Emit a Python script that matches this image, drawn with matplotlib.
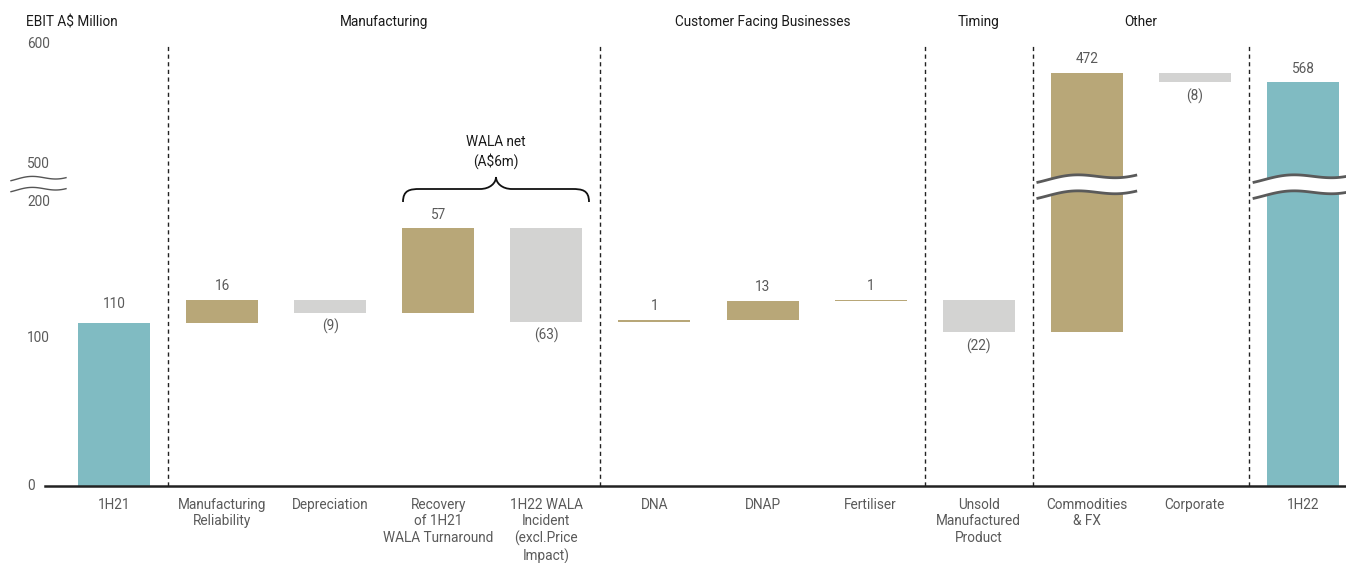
import numpy as np
import matplotlib
matplotlib.use("Agg")
import matplotlib.pyplot as plt
from matplotlib.transforms import blended_transform_factory
from matplotlib.path import Path
from matplotlib.patches import PathPatch

plt.rcParams['font.family'] = ['Liberation Sans Narrow', 'Roboto', 'DejaVu Sans']

categories = ['1H21', 'Manufacturing\nReliability', 'Depreciation',
              'Recovery\nof 1H21\nWALA Turnaround', '1H22 WALA\nIncident\n(excl.Price\nImpact)',
              'DNA', 'DNAP', 'Fertiliser', 'Unsold\nManufactured\nProduct',
              'Commodities\n& FX', 'Corporate', '1H22']
changes = [110, 16, -9, 57, -63, 1, 13, 1, -22, 472, -8]
total_label = 568
groups = ['Manufacturing', 'Customer Facing Businesses', 'Timing', 'Other']
group_edges = [0.5, 4.5, 7.5, 8.5, 10.5]
yticks = [0, 100, 200, 500, 600]

TEAL = '#80bbc2'
GOLD = '#b8a778'
GREY = '#d3d3d2'
TXT = '#5a5a5a'
FS = 9.8


# broken axis: 0-200 and 500-600 drawn, 200-500 squeezed
def fwd(v):
    v = np.asarray(v, dtype=float)
    return np.where(v <= 200, v * 1.48,
                    np.where(v < 500, 296 + (v - 200) * 26 / 300, 322 + (v - 500) * 1.2))


def inv(p):
    p = np.asarray(p, dtype=float)
    return np.where(p <= 296, p / 1.48,
                    np.where(p < 322, 200 + (p - 296) * 300 / 26, 500 + (p - 322) / 1.2))


W, H = 1346, 563
fig = plt.figure(figsize=(W / 100, H / 100), dpi=100)
top_px = fwd(600)
ax = fig.add_axes([45 / W, (H - 486) / H, (W - 45) / W, float(top_px) / H])
ax.set_yscale('function', functions=(fwd, inv))

n = len(categories)
x = np.arange(n)
xpx = lambda px: (px - 114) / 108.09
ax.set_xlim(xpx(45), xpx(1346))
ax.set_ylim(0, 600)

# waterfall bars
running = 0
bottoms, heights, colors = [], [], []
for i, c in enumerate(changes):
    if i == 0:
        bottoms.append(0); heights.append(c); colors.append(TEAL)
        running = c
        continue
    if c >= 0:
        bottoms.append(running); heights.append(c); colors.append(GOLD)
    else:
        bottoms.append(running + c); heights.append(-c); colors.append(GREY)
    running += c
bottoms.append(0); heights.append(running); colors.append(TEAL)
ax.bar(x, heights, bottom=bottoms, width=0.666, color=colors, zorder=2)

# value labels
values = changes + [total_label]
for i, v in enumerate(values):
    b, h = bottoms[i], heights[i]
    if v >= 0:
        dy = 14 if i == 0 else 10
        ax.annotate(str(v), (i, b + h), xytext=(0, dy), textcoords='offset points',
                    ha='center', va='center', fontsize=FS, color=TXT)
    else:
        ax.annotate('(%d)' % -v, (i, b), xytext=(0, -10), textcoords='offset points',
                    ha='center', va='center', fontsize=FS, color=TXT)

# axes styling
for s in ['top', 'right', 'left']:
    ax.spines[s].set_visible(False)
ax.spines['bottom'].set_linewidth(1.8)
ax.spines['bottom'].set_color('#222222')
ax.set_yticks([])
ax.set_xticks(x)
ax.set_xticklabels(categories, fontsize=FS, color=TXT, linespacing=1.22, va='top')
ax.tick_params(axis='x', length=0, pad=8.5)

ylab_tr = blended_transform_factory(fig.transFigure, ax.transData)
for t in yticks:
    dy = -9 if t == 200 else 0
    ax.annotate(str(t), (27 / W, t), xycoords=ylab_tr, xytext=(0, dy),
                textcoords='offset points', ha='left', va='center',
                fontsize=FS, color=TXT, annotation_clip=False)

# section separators and headers
for e in group_edges:
    ax.axvline(e, color='#222222', lw=1, ls=(0, (3, 2.5)), zorder=1)
hdr_y = 1 - 22 / H
fig.text(26 / W, hdr_y, 'EBIT A$ Million', ha='left', va='center', fontsize=FS, color='#1a1a1a')
for g, a, b in zip(groups, group_edges[:-1], group_edges[1:]):
    xc = ax.transData.transform(((a + b) / 2, 0))[0] / W
    fig.text(xc, hdr_y, g, ha='center', va='center', fontsize=FS, color='#1a1a1a')

# break marks on the y axis
frac = lambda p: p / float(top_px)
ylab_wave = blended_transform_factory(fig.transFigure, ax.transAxes)
t = np.linspace(0, 1, 60)
for y0 in (308, 297):
    yy = y0 + 2 * np.sin(2 * np.pi * (t - 0.1)) + 3 * (t - 0.5)
    ax.plot((11 + 55 * t) / W, frac(yy), transform=ylab_wave, color='#555555',
            lw=1, clip_on=False)

# break marks across the tall bars
xt = ax.get_xaxis_transform()
for i in (9, 11):
    xs = i - 0.453 + 0.906 * t
    wave = 3 * np.sin(2 * np.pi * (t - 0.1)) + 7 * (t - 0.5)
    y_hi = 309 + wave
    y_lo = 293 + wave
    ax.fill_between(xs, frac(y_lo), frac(y_hi), transform=xt, color='white', zorder=3, lw=0)
    ax.plot(xs, frac(y_hi), transform=xt, color='#5a5a5a', lw=2, zorder=4)
    ax.plot(xs, frac(y_lo), transform=xt, color='#5a5a5a', lw=2, zorder=4)

# brace over the two WALA bars
def bx(px):
    return xpx(px)

def by(py):
    return frac(486 - py)

verts = [(bx(403), by(202)), (bx(403), by(190)), (bx(410), by(189)), (bx(420), by(189)),
         (bx(480), by(189)),
         (bx(490), by(189)), (bx(496), by(183)), (bx(496), by(177)),
         (bx(496), by(183)), (bx(502), by(189)), (bx(512), by(189)),
         (bx(572), by(189)),
         (bx(582), by(189)), (bx(589), by(190)), (bx(589), by(202))]
codes = [Path.MOVETO, Path.CURVE4, Path.CURVE4, Path.CURVE4,
         Path.LINETO,
         Path.CURVE4, Path.CURVE4, Path.CURVE4,
         Path.CURVE4, Path.CURVE4, Path.CURVE4,
         Path.LINETO,
         Path.CURVE4, Path.CURVE4, Path.CURVE4]
ax.add_patch(PathPatch(Path(verts, codes), transform=xt, fill=False, lw=1.3,
                       edgecolor='#111111', zorder=5, clip_on=False))
ax.text(bx(496), by(152), 'WALA net\n(A$6m)', transform=xt, ha='center', va='center',
        fontsize=FS, color='#1a1a1a', linespacing=1.35)

fig.savefig('out.png', dpi=100)
